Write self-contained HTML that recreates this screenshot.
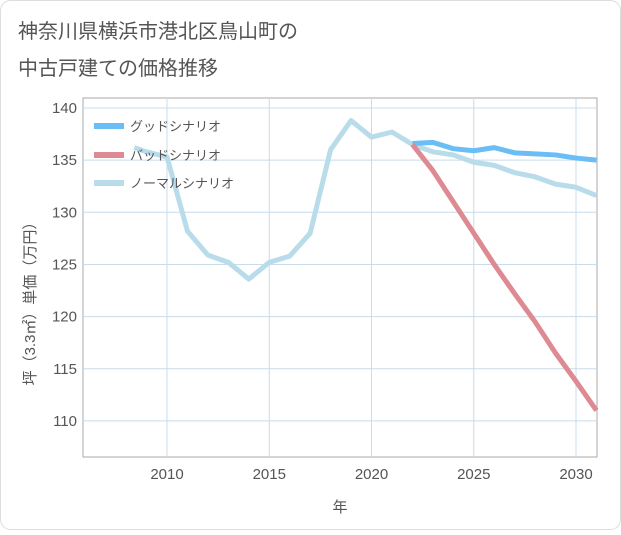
<!DOCTYPE html>
<html><head><meta charset="utf-8"><style>
body{margin:0;background:#fff;font-family:"Liberation Sans","Noto Sans CJK JP",sans-serif}
</style></head><body>
<svg width="621" height="530" xmlns="http://www.w3.org/2000/svg" style="font-family:'Liberation Sans','Noto Sans CJK JP',sans-serif">
<rect x="0.5" y="0.5" width="620" height="529" rx="10" fill="#fff" stroke="#ddd"/>
<text x="18" y="38" font-size="20" fill="#555">神奈川県横浜市港北区鳥山町の</text>
<text x="18" y="75" font-size="20" fill="#555">中古戸建ての価格推移</text>
<rect x="83" y="98" width="514" height="359" fill="#fff" stroke="#aaa"/>
<g id="grid"></g>
<g id="series"></g>
<g id="ticks"></g>
<text x="340" y="512" font-size="15" fill="#555" text-anchor="middle">年</text>
<text transform="translate(35,300) rotate(-90)" font-size="15" fill="#555" text-anchor="middle">坪（3.3㎡）単価（万円）</text>
<g>
<rect x="94" y="123" width="30" height="6" fill="#6bbdf5"/>
<text x="130" y="131" font-size="13" fill="#555">グッドシナリオ</text>
<rect x="94" y="152" width="30" height="6" fill="#de8a92"/>
<text x="130" y="160" font-size="13" fill="#555">バッドシナリオ</text>
<rect x="94" y="180" width="30" height="6" fill="#b9dcea"/>
<text x="130" y="188" font-size="13" fill="#555">ノーマルシナリオ</text>
</g>
</svg>
<script>
const xTicks=[2010,2015,2020,2025,2030];
const yTicks=[110,115,120,125,130,135,140];
const normalYears=[2008.4,2009,2010,2011,2012,2013,2014,2015,2016,2017,2018,2019,2020,2021,2022,2023,2024,2025,2026,2027,2028,2029,2030,2031];
const normalVals=[136.2,135.8,135.3,128.2,125.9,125.2,123.6,125.2,125.8,128,136,138.8,137.2,137.7,136.5,135.8,135.5,134.8,134.5,133.8,133.4,132.7,132.4,131.6];
const goodYears=[2022,2023,2024,2025,2026,2027,2028,2029,2030,2031];
const goodVals=[136.6,136.7,136.1,135.9,136.2,135.7,135.6,135.5,135.2,135.0];
const badYears=[2022,2023,2024,2025,2026,2027,2028,2029,2030,2031];
const badVals=[136.5,134,131,128,125,122.2,119.5,116.5,113.8,111];
const X=y=>167+(y-2010)*20.45;
const Y=v=>108+(140-v)*10.43;
const NS='http://www.w3.org/2000/svg';
function mk(t,a,p){const e=document.createElementNS(NS,t);for(const k in a)e.setAttribute(k,a[k]);document.getElementById(p).appendChild(e);return e;}
xTicks.forEach(t=>{const l=mk('line',{x1:X(t),x2:X(t),y1:98,y2:457,stroke:'#c8dcea'},'grid');


const tx=mk('text',{x:X(t),y:479,'font-size':15,fill:'#555','text-anchor':'middle'},'ticks');tx.textContent=t;

});
yTicks.forEach(t=>{const l=mk('line',{x1:83,x2:597,y1:Y(t),y2:Y(t),stroke:'#c8dcea'},'grid');


const tx=mk('text',{x:77,y:Y(t)+5,'font-size':15,fill:'#555','text-anchor':'end'},'ticks');tx.textContent=t;

});
function line(ys,vs,c,n){const p=mk('polyline',{points:ys.map((y,i)=>X(y)+','+Y(vs[i])).join(' '),fill:'none',stroke:c,'stroke-width':5,'stroke-linejoin':'round'},'series');

}
line(normalYears,normalVals,'#b9dcea','normal-line');
line(goodYears,goodVals,'#6bbdf5','good-line');
line(badYears,badVals,'#de8a92','bad-line');
</script>
</body></html>
